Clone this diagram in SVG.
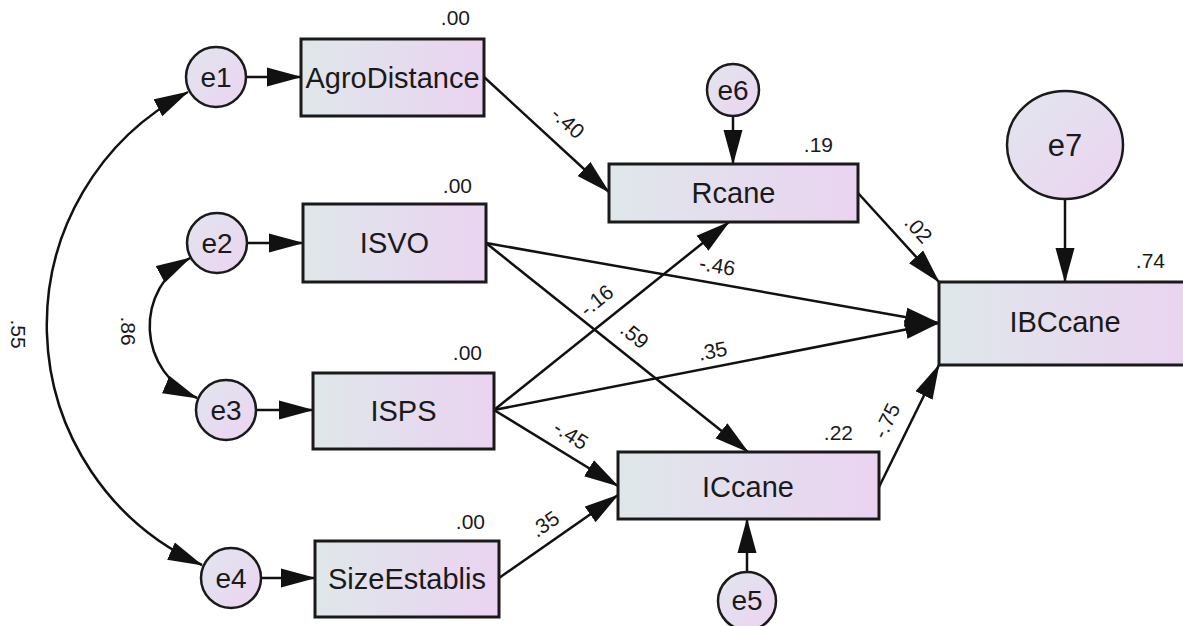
<svg xmlns="http://www.w3.org/2000/svg" width="1183" height="626" viewBox="0 0 1183 626">
<style>
.box{stroke:#1a1a1a;stroke-width:3;fill:url(#gBox)}
.circ{stroke:#1a1a1a;stroke-width:2.5;fill:url(#gCirc)}
.lbl{font-family:"Liberation Sans",Arial,sans-serif;font-size:29px;fill:#1a1a1a;text-anchor:middle}
.clbl{font-family:"Liberation Sans",Arial,sans-serif;font-size:28px;fill:#1a1a1a;text-anchor:middle}
.num{font-family:"Liberation Sans",Arial,sans-serif;font-size:21px;fill:#1a1a1a;text-anchor:end}
.plbl{font-family:"Liberation Sans",Arial,sans-serif;font-size:21px;fill:#1a1a1a;text-anchor:middle}
.edge{stroke:#111;stroke-width:2.5;fill:none;marker-end:url(#arr)}
.cov{stroke:#111;stroke-width:2.5;fill:none;marker-start:url(#arr);marker-end:url(#arr)}
</style>
<defs>
<linearGradient id="gBox" x1="0" y1="0" x2="1" y2="0">
<stop offset="0" stop-color="#dfe7ea"/>
<stop offset="1" stop-color="#ead3f1"/>
</linearGradient>
<linearGradient id="gCirc" x1="0" y1="0" x2="1" y2="1">
<stop offset="0" stop-color="#e1e6ee"/>
<stop offset="1" stop-color="#ecd3f1"/>
</linearGradient>
<marker id="arr" markerUnits="userSpaceOnUse" markerWidth="35" markerHeight="20" refX="34" refY="10" orient="auto-start-reverse">
<path d="M0,0.5 L35,10 L0,19.5 z" fill="#111"/>
</marker>
</defs>
<rect width="1183" height="626" fill="#ffffff"/>
<g id="connectors">
<path class="edge" d="M247 77 L301 77"/>
<path class="edge" d="M248 243 L303 243"/>
<path class="edge" d="M256 410 L313 410"/>
<path class="edge" d="M261 578 L315 578"/>
<path class="edge" d="M484 77 L609 192"/>
<path class="edge" d="M733 116 L733 164"/>
<path class="edge" d="M858 193 L939 282"/>
<path class="edge" d="M1065 199 L1065 282"/>
<path class="edge" d="M486 243 L939 323"/>
<path class="edge" d="M486 243 L748 452"/>
<path class="edge" d="M494 410 L729 222"/>
<path class="edge" d="M494 410 L939 323"/>
<path class="edge" d="M494 410 L618 486"/>
<path class="edge" d="M499 578 L618 495"/>
<path class="edge" d="M747 572 L747 519"/>
<path class="edge" d="M879 487 L939 365"/>
<path class="cov" d="M188 92 A 263 263 0 0 0 202 565"/>
<path class="cov" d="M190 258 A 78 78 0 0 0 197 398"/>
<text class="plbl" transform="translate(563 128) rotate(42)">-.40</text>
<text class="plbl" transform="translate(913 234) rotate(48)">.02</text>
<text class="plbl" transform="translate(716 273) rotate(10)">-.46</text>
<text class="plbl" transform="translate(630 341) rotate(39)">.59</text>
<text class="plbl" transform="translate(601 306) rotate(-39)">-.16</text>
<text class="plbl" transform="translate(714 358) rotate(-11)">.35</text>
<text class="plbl" transform="translate(567 441) rotate(32)">-.45</text>
<text class="plbl" transform="translate(549 530) rotate(-35)">.35</text>
<text class="plbl" transform="translate(893 424) rotate(-64)">-.75</text>
<text class="plbl" transform="translate(11 334) rotate(90)">.55</text>
<text class="plbl" transform="translate(121 331) rotate(90)">.86</text>
</g>
<g id="e1"><circle class="circ" cx="216" cy="77" r="30"/><text class="clbl" x="216" y="87">e1</text></g>
<g id="e2"><circle class="circ" cx="217" cy="243" r="30"/><text class="clbl" x="217" y="253">e2</text></g>
<g id="e3"><circle class="circ" cx="226" cy="410" r="30"/><text class="clbl" x="226" y="420">e3</text></g>
<g id="e4"><circle class="circ" cx="231" cy="578" r="30"/><text class="clbl" x="231" y="588">e4</text></g>
<g id="e5"><circle class="circ" cx="747" cy="601" r="29"/><text class="clbl" x="747" y="610">e5</text></g>
<g id="e6"><circle class="circ" cx="733" cy="90" r="26"/><text class="clbl" x="733" y="100">e6</text></g>
<g id="e7"><ellipse class="circ" cx="1065" cy="145" rx="58" ry="54"/><text class="clbl" x="1065" y="156" style="font-size:31px">e7</text></g>
<g id="AgroDistance"><rect class="box" x="301" y="39" width="183" height="77"/><text class="lbl" x="392.5" y="88">AgroDistance</text><text class="num" x="470" y="25">.00</text></g>
<g id="ISVO"><rect class="box" x="303" y="204" width="183" height="78"/><text class="lbl" x="394.5" y="253">ISVO</text><text class="num" x="472" y="193">.00</text></g>
<g id="ISPS"><rect class="box" x="313" y="373" width="181" height="76"/><text class="lbl" x="403.5" y="421">ISPS</text><text class="num" x="482" y="360">.00</text></g>
<g id="SizeEstablis"><rect class="box" x="315" y="541" width="184" height="76"/><text class="lbl" x="407" y="589">SizeEstablis</text><text class="num" x="485" y="529">.00</text></g>
<g id="Rcane"><rect class="box" x="609" y="164" width="249" height="58"/><text class="lbl" x="733.5" y="203">Rcane</text><text class="num" x="833" y="152">.19</text></g>
<g id="ICcane"><rect class="box" x="618" y="452" width="261" height="67"/><text class="lbl" x="748" y="497">ICcane</text><text class="num" x="853" y="440">.22</text></g>
<g id="IBCcane"><rect class="box" x="939" y="282" width="252" height="83"/><text class="lbl" x="1065" y="332">IBCcane</text><text class="num" x="1165" y="268">.74</text></g>
</svg>
